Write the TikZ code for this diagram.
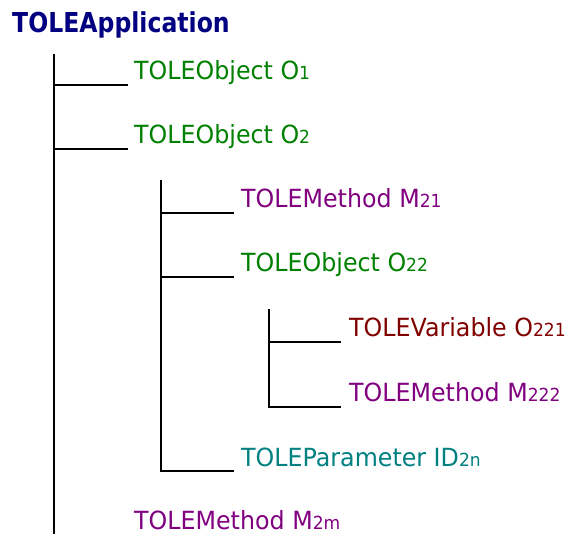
\documentclass[tikz,border=0pt]{standalone}
\usepackage{fontspec}
\setmainfont{DejaVu Sans}[FakeStretch=0.95]
\newfontfamily\titlefont{DejaVu Sans}[FakeStretch=0.86]
\usetikzlibrary{calc}
\definecolor{navyc}{RGB}{0,0,128}
\definecolor{greenc}{RGB}{0,128,0}
\definecolor{purplec}{RGB}{128,0,128}
\definecolor{redc}{RGB}{128,0,0}
\definecolor{tealc}{RGB}{0,128,128}
\newcommand\smidx[1]{{\fontsize{18pt}{18pt}\selectfont #1}}
\tikzset{
  item/.style={anchor=base west, inner sep=0pt, font=\fontsize{25pt}{25pt}\selectfont},
  objc/.style={item, text=greenc},
  methc/.style={item, text=purplec},
  varc/.style={item, text=redc},
  parc/.style={item, text=tealc},
  tree/.style={line width=2pt, black, line cap=rect},
}
\begin{document}
\begin{tikzpicture}[x=1pt,y=-1pt]
\useasboundingbox (0,0) rectangle (565,534);
\node[anchor=base west, inner sep=0pt, text=navyc, font=\titlefont\bfseries\fontsize{27.4pt}{27.4pt}\selectfont] (app) at (12,33) {TOLEApplication};
\node[objc] (o1) at (134,80) {TOLEObject O\smidx{1}};
\node[objc] (o2) at (134,144) {TOLEObject O\smidx{2}};
\node[methc] (m21) at (241,208) {TOLEMethod M\smidx{21}};
\node[objc] (o22) at (241,272) {TOLEObject O\smidx{22}};
\node[varc] (o221) at (349,337) {TOLEVariable O\smidx{221}};
\node[methc] (m222) at (349,402) {TOLEMethod M\smidx{222}};
\node[parc] (id2n) at (241,466) {TOLEParameter ID\smidx{2n}};
\node[methc] (m2m) at (134,529) {TOLEMethod M\smidx{2m}};
% level 1
\coordinate (v1top) at (54,55);
\coordinate (v1bot) at (54,536);
\draw[tree] (v1top) -- (v1bot);
\draw[tree] (v1top |- 0,85) -- ($(o1.base west)+(-7,5)$);
\draw[tree] (v1top |- 0,149) -- ($(o2.base west)+(-7,5)$);
% level 2
\coordinate (v2top) at (161,181);
\draw[tree] (v2top) -- (161,471) -- ($(id2n.base west)+(-8,5)$);
\draw[tree] (v2top |- 0,213) -- ($(m21.base west)+(-8,5)$);
\draw[tree] (v2top |- 0,277) -- ($(o22.base west)+(-8,5)$);
% level 3
\coordinate (v3top) at (269,310);
\draw[tree] (v3top) -- (269,407) -- ($(m222.base west)+(-9,5)$);
\draw[tree] (v3top |- 0,342) -- ($(o221.base west)+(-9,5)$);
\end{tikzpicture}
\end{document}
